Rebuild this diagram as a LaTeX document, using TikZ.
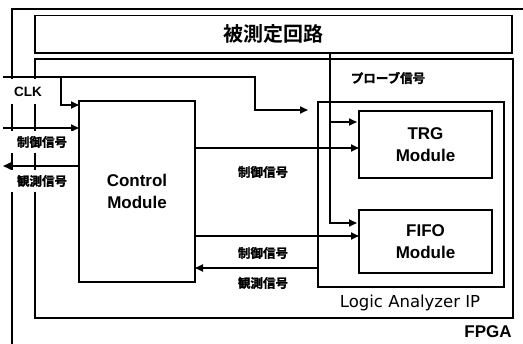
\documentclass[tikz,border=0pt]{standalone}
\usepackage{fontspec}
\setmainfont{Liberation Sans}
\newfontfamily\jp{Noto Sans CJK JP}[BoldFont={Noto Sans CJK JP Bold}]
\newfontfamily\jph{Noto Sans CJK JP Bold}[FakeBold=1.5]
\newfontfamily\dv{DejaVu Sans}
\usetikzlibrary{arrows.meta}
\begin{document}
\begin{tikzpicture}[x=1pt,y=-1pt,line width=1.7pt,
  blk/.style={draw,line width=1.7pt,outer sep=0pt,inner sep=0pt,anchor=north west},
  arr/.style={-{Triangle[length=8pt,width=7pt]}},
  lat/.style={font=\fontsize{17}{22}\selectfont\bfseries,align=center},
  jps/.style={font=\jph\fontsize{12.5}{14}\selectfont,inner sep=1pt},
  lbl/.style={fill=white,inner sep=0pt}]
\useasboundingbox (0,0) rectangle (523,344);
% outer frame (FPGA)
\coordinate (fa) at (12,344);
\coordinate (fb) at (12,9);
\coordinate (fc) at (523,9);
\draw (fa) -- (fb) -- (fc);
% blocks
\node[blk,minimum width=477pt,minimum height=37.5pt] (dut) at (35,15.5) {};
\node[font=\jp\bfseries\fontsize{20}{22}\selectfont] (dutt) at (dut.center) {被測定回路};
\node[blk,minimum width=478pt,minimum height=259pt] (la) at (35,59) {};
\node[blk,minimum width=116pt,minimum height=181pt] (ctrl) at (79,101) {};
\node[lat] (ctrlt) at (ctrl.center) {Control\\Module};
\node[blk,minimum width=186pt,minimum height=185pt] (sub) at (318,102) {};
\node[blk,minimum width=133pt,minimum height=67pt] (trg) at (359,111) {};
\node[lat] (trgt) at (trg.center) {TRG\\Module};
\node[blk,minimum width=133pt,minimum height=63pt] (fifo) at (359,210) {};
\node[lat] (fifot) at (fifo.center) {FIFO\\Module};
% coordinates for free ends
\coordinate (clkin) at (3,77);
\coordinate (clkc) at (255,77);
\coordinate (clkb) at (61,77);
\coordinate (ctlin) at (3,128);
\coordinate (obsout) at (3,166);
\coordinate (prb) at (330,122);
% CLK
\draw[arr] (clkin) -- (clkc) |- ([xshift=-10pt]sub.west |- 0,110);
\draw[arr] (clkb) |- (ctrl.west |- 0,105);
% external control / observation
\draw[arr] (ctlin) -- (ctrl.west |- ctlin);
\draw[arr] (ctrl.west |- obsout) -- (obsout);
% internal
\draw[arr] (ctrl.east |- 0,148) -- (trg.west |- 0,148);
\draw[arr] (ctrl.east |- 0,236) -- (fifo.west |- 0,236);
\draw[arr] (sub.west |- 0,268) -- (ctrl.east |- 0,268);
% probe
\draw[arr,shorten >=2pt] (dut.south -| prb) |- (fifo.west |- 0,223);
\draw[arr,shorten >=2pt] (prb) -- (trg.west |- prb);
% labels on left frame
\node[lbl,minimum width=36pt,minimum height=25pt,font=\fontsize{13.5}{14}\selectfont\bfseries] (clkl) at (28,92) {CLK};
\node[lbl,minimum width=62pt,minimum height=22pt,font=\jph\fontsize{12.5}{14}\selectfont] (ctll) at (42,142) {制御信号};
\node[lbl,minimum width=62pt,minimum height=22pt,font=\jph\fontsize{12.5}{14}\selectfont] (obsl) at (42,181) {観測信号};
% other labels
\node[jps] (prbl) at (388,78) {プローブ信号};
\node[jps] (c1) at (263,172) {制御信号};
\node[jps] (c2) at (263,253) {制御信号};
\node[jps] (o2) at (263,283) {観測信号};
\node[font=\dv\fontsize{16.5}{18}\selectfont] (lal) at (410,303) {Logic Analyzer IP};
\node[font=\fontsize{17}{18}\selectfont\bfseries] (fpgal) at (488,332) {FPGA};
\end{tikzpicture}
\end{document}
